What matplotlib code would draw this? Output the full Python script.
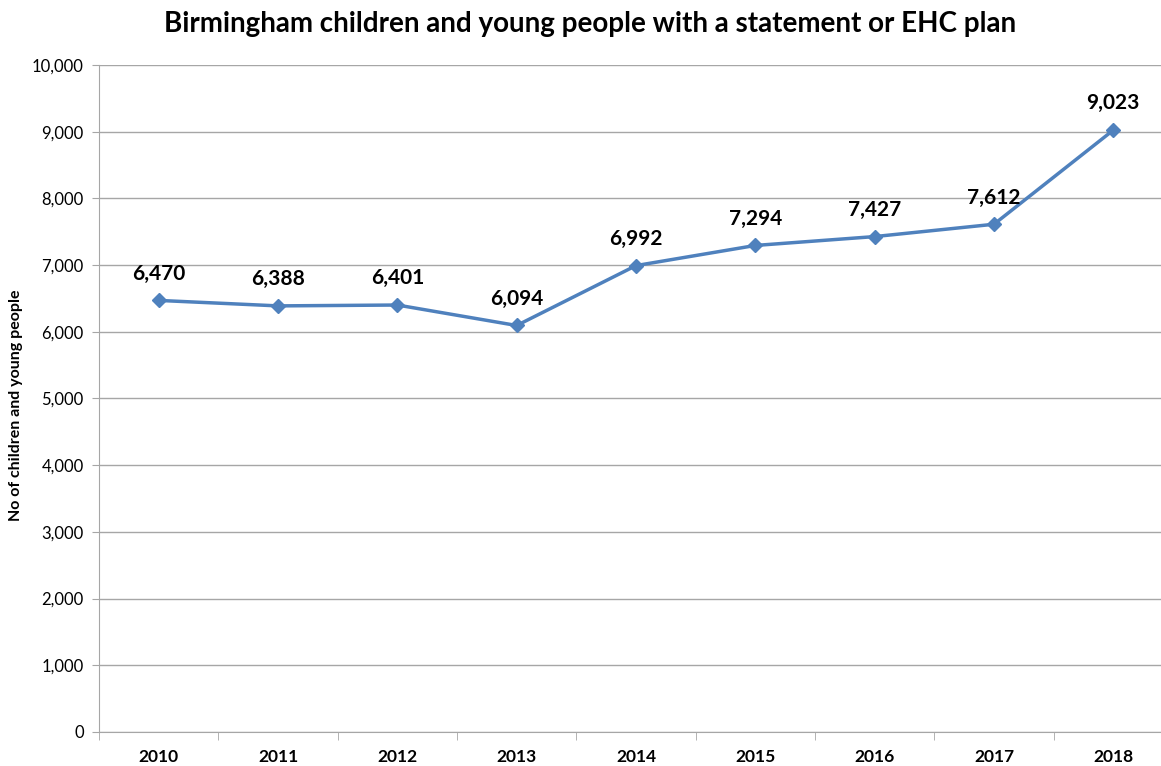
import matplotlib.pyplot as plt
from matplotlib.ticker import FuncFormatter, FixedLocator

plt.rcParams['font.family'] = ['Lato', 'DejaVu Sans']

years = ['2010', '2011', '2012', '2013', '2014', '2015', '2016', '2017', '2018']
counts = [6470, 6388, 6401, 6094, 6992, 7294, 7427, 7612, 9023]

fig = plt.figure(figsize=(11.61, 7.66), dpi=100)
ax = fig.add_axes([0.0853, 0.0444, 0.925, 0.8708])

x = list(range(len(years)))
ax.plot(x, counts, color='#4F81BD', linewidth=2.5, marker='D', markersize=7,
        markerfacecolor='#4F81BD', markeredgecolor='#4F81BD', zorder=3)

for xi, v in zip(x, counts):
    ax.annotate(f'{v:,}', (xi, v), xytext=(0, 12), textcoords='offset points',
                ha='center', va='bottom', fontsize=15, fontweight='bold')

ax.set_xlim(-0.5, len(years) - 0.5)
ax.set_ylim(0, 10000)
ax.set_yticks(range(0, 10001, 1000))
ax.yaxis.set_major_formatter(FuncFormatter(lambda v, p: f'{int(v):,}'))
ax.grid(axis='y', color='#A6A6A6', linewidth=1)
ax.set_axisbelow(True)

# category labels centred in bins, tick marks on bin edges
ax.set_xticks(x)
ax.set_xticklabels(years, fontsize=12.5, fontweight='bold')
ax.tick_params(axis='x', length=0, pad=12)
ax.xaxis.set_minor_locator(FixedLocator([i - 0.5 for i in range(len(years) + 1)]))
ax.tick_params(axis='x', which='minor', length=6, color='#A6A6A6')
ax.tick_params(axis='y', length=5, color='#A6A6A6', labelsize=12, pad=6)

for side in ('top', 'right'):
    ax.spines[side].set_visible(False)
for side in ('left', 'bottom'):
    ax.spines[side].set_color('#A6A6A6')

ax.set_ylabel('No of children and young people', fontsize=11.5, fontweight='bold')
ax.yaxis.set_label_coords(-0.071, 0.49)
fig.suptitle('Birmingham children and young people with a statement or EHC plan',
             x=0.508, y=0.985, fontsize=20, fontweight='bold')

fig.savefig('out.png', dpi=100)
